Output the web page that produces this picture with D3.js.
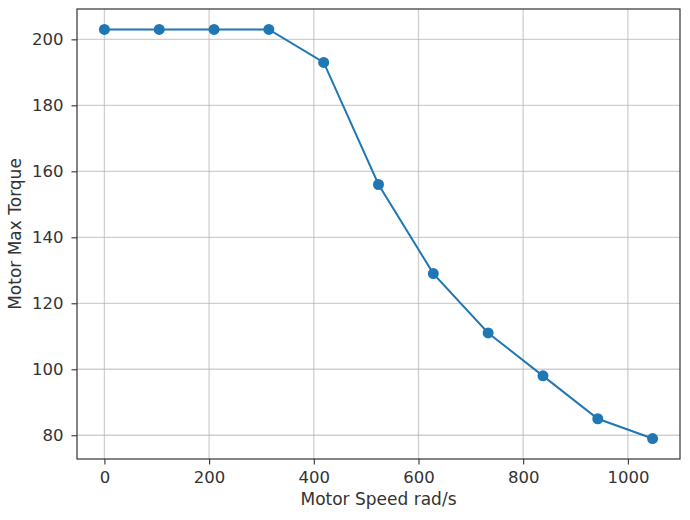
<!DOCTYPE html>
<html>
<head>
<meta charset="utf-8">
<script src="https://cdn.jsdelivr.net/npm/d3@7"></script>
<style>
  html, body { margin: 0; padding: 0; background: #fff; }
  svg { display: block; }
  text { font-family: "DejaVu Sans", sans-serif; fill: #333; }
</style>
</head>
<body>
<svg id="chart" width="690" height="520"></svg>
<script>
// Data
const speeds = [0, 104.72, 209.44, 314.16, 418.88, 523.6, 628.32, 733.04, 837.76, 942.48, 1047.2];
const torques = [203, 203, 203, 203, 193, 156, 129, 111, 98, 85, 79];
const xTicks = [0, 200, 400, 600, 800, 1000];
const yTicks = [80, 100, 120, 140, 160, 180, 200];
const xLabel = "Motor Speed rad/s";
const yLabel = "Motor Max Torque";

(function () {
const svg = d3.select("#chart");
const pL = 77, pR = 680, pT = 9, pB = 459;

const xMin = d3.min(speeds), xMax = d3.max(speeds);
const xPad = (xMax - xMin) * 0.05;
const yMin = d3.min(torques), yMax = d3.max(torques);
const yPad = (yMax - yMin) * 0.05;

const x = d3.scaleLinear().domain([xMin - xPad, xMax + xPad]).range([pL, pR]);
const y = d3.scaleLinear().domain([yMin - yPad, yMax + yPad]).range([pB, pT]);

// Grid
const grid = svg.append("g");
grid.selectAll(".gx").data(xTicks).enter().append("line")
  .attr("x1", d => x(d)).attr("x2", d => x(d))
  .attr("y1", pT).attr("y2", pB)
  .attr("stroke", "#b0b0b0").attr("stroke-opacity", 0.6).attr("stroke-width", 1.3);
grid.selectAll(".gy").data(yTicks).enter().append("line")
  .attr("y1", d => y(d)).attr("y2", d => y(d))
  .attr("x1", pL).attr("x2", pR)
  .attr("stroke", "#b0b0b0").attr("stroke-opacity", 0.6).attr("stroke-width", 1.3);

// Axes
const xAxis = d3.axisBottom(x).tickValues(xTicks).tickSize(5.5).tickPadding(7).tickFormat(d3.format("d"));
const yAxis = d3.axisLeft(y).tickValues(yTicks).tickSize(5.5).tickPadding(8).tickFormat(d3.format("d"));

const gx = svg.append("g").attr("transform", `translate(0,${pB})`).call(xAxis);
const gy = svg.append("g").attr("transform", `translate(${pL},0)`).call(yAxis);
[gx, gy].forEach(g => {
  g.select(".domain").remove();
  g.selectAll(".tick line").attr("stroke", "#333").attr("stroke-width", 1.1);
  g.selectAll(".tick text").attr("font-size", 16.5).attr("fill", "#333")
    .style("font-family", "'DejaVu Sans', sans-serif");
});

// Frame
svg.append("rect").attr("x", pL).attr("y", pT)
  .attr("width", pR - pL).attr("height", pB - pT)
  .attr("fill", "none").attr("stroke", "#333").attr("stroke-width", 1.2);

// Line
const line = d3.line().x((d, i) => x(speeds[i])).y(d => y(d));
svg.append("path").datum(torques)
  .attr("d", line).attr("fill", "none")
  .attr("stroke", "#1f77b4").attr("stroke-width", 2);

svg.selectAll(".pt").data(torques).enter().append("circle")
  .attr("cx", (d, i) => x(speeds[i])).attr("cy", d => y(d))
  .attr("r", 5.5).attr("fill", "#1f77b4");

// Labels
svg.append("text").attr("x", (pL + pR) / 2).attr("y", 505)
  .attr("text-anchor", "middle").attr("font-size", 17).text(xLabel);
svg.append("text").attr("transform", `translate(21,${(pT + pB) / 2}) rotate(-90)`)
  .attr("text-anchor", "middle").attr("font-size", 17).text(yLabel);
})();
</script>
</body>
</html>
